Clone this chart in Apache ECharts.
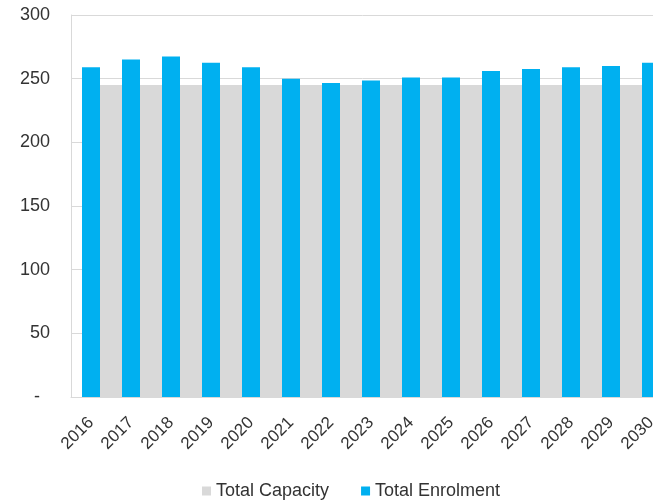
<!DOCTYPE html>
<html>
<head>
<meta charset="utf-8">
<style>
  html, body { margin: 0; padding: 0; background: #ffffff; }
  #chart { width: 653px; height: 501px; }
</style>
<script src="https://cdn.jsdelivr.net/npm/echarts@6/dist/echarts.min.js"></script>
</head>
<body>
<div id="chart"></div>
<script>
// School capacity vs enrolment projections
const years = ['2016','2017','2018','2019','2020','2021','2022','2023','2024','2025','2026','2027','2028','2029','2030'];
const totalCapacity = [245,245,245,245,245,245,245,245,245,245,245,245,245,245,245];
const totalEnrolment = [259,265,267.5,262.5,259,250,246.5,248.5,251,251,256,257.5,259,260,262.5];
const yTicks = { min: 0, max: 300, interval: 50 };

const FONT = '"Liberation Sans", Arial, sans-serif';
const TEXT = '#333333';
const GRID_LINE = '#d9d9d9';

const chart = echarts.init(document.getElementById('chart'), null, { renderer: 'canvas' });

// the plot runs past the right edge of the canvas, so bounds are not clamped
const gridBox = { top: 15, height: 382, width: 600, containLabel: false, outerBoundsMode: 'none' };

chart.setOption({
  animation: false,
  backgroundColor: '#ffffff',
  textStyle: { fontFamily: FONT },
  legend: {
    left: 197,
    top: 477,
    itemWidth: 9,
    itemHeight: 9,
    itemGap: 32,
    icon: 'rect',
    textStyle: { fontFamily: FONT, fontSize: 18, color: TEXT },
    data: ['Total Capacity', 'Total Enrolment']
  },
  grid: [
    Object.assign({ left: 71 }, gridBox),
    // capacity columns sit half a category to the right of the enrolment columns
    Object.assign({ left: 91 }, gridBox)
  ],
  xAxis: [
    {
      type: 'category',
      gridIndex: 0,
      data: years,
      axisLine: { lineStyle: { color: GRID_LINE } },
      axisTick: { alignWithLabel: true, length: 5, lineStyle: { color: GRID_LINE } },
      axisLabel: { rotate: 45, margin: 23, fontFamily: FONT, fontSize: 17, color: TEXT, interval: 0 }
    },
    {
      type: 'category',
      gridIndex: 1,
      data: years,
      show: false
    }
  ],
  yAxis: [
    {
      type: 'value',
      gridIndex: 0,
      min: yTicks.min,
      max: yTicks.max,
      interval: yTicks.interval,
      axisLine: { show: true, lineStyle: { color: GRID_LINE } },
      axisTick: { show: false },
      splitLine: { lineStyle: { color: GRID_LINE } },
      axisLabel: {
        margin: 21,
        fontFamily: FONT,
        fontSize: 18,
        color: TEXT,
        formatter: v => v === 0 ? '{d|-}' : String(v),
        rich: { d: { fontFamily: FONT, fontSize: 18, color: TEXT, padding: [0, 10, 0, 0] } }
      }
    },
    {
      type: 'value',
      gridIndex: 1,
      min: yTicks.min,
      max: yTicks.max,
      interval: yTicks.interval,
      show: false,
      splitLine: { show: false }
    }
  ],
  series: [
    {
      name: 'Total Capacity',
      type: 'bar',
      xAxisIndex: 1,
      yAxisIndex: 1,
      data: totalCapacity,
      barWidth: 22,
      itemStyle: { color: '#d9d9d9' },
      z: 2
    },
    {
      name: 'Total Enrolment',
      type: 'bar',
      xAxisIndex: 0,
      yAxisIndex: 0,
      data: totalEnrolment,
      barWidth: 18,
      itemStyle: { color: '#00b0f0' },
      z: 3
    }
  ]
});
</script>
</body>
</html>
